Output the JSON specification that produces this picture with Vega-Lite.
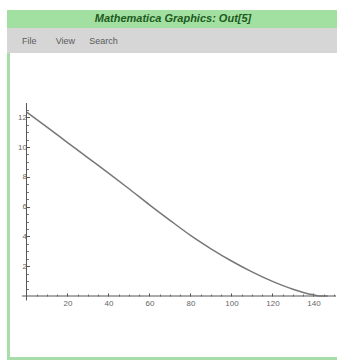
{
  "$schema": "https://vega.github.io/schema/vega-lite/v6.json",
  "padding": {"left": 5, "top": 10, "right": 0, "bottom": 0},
  "background": "white",
  "spacing": 0,
  "bounds": "flush",
  "config": {"font": "Liberation Sans", "concat": {"spacing": 0}},
  "vconcat": [
    {
      "width": 332,
      "height": 18,
      "view": {"fill": "#a2e0a2", "stroke": null},
      "data": {"values": [{"t": "Mathematica Graphics: Out[5]"}]},
      "mark": {"type": "text", "font": "Liberation Sans", "fontStyle": "italic", "fontWeight": "bold", "fontSize": 11, "color": "#1d5a1d"},
      "encoding": {"text": {"field": "t", "type": "nominal"}}
    },
    {
      "width": 332,
      "height": 25,
      "view": {"fill": "#d6d6d6", "stroke": null},
      "data": {"values": [{"m": "File", "i": 0}, {"m": "View", "i": 1}, {"m": "Search", "i": 2}]},
      "mark": {"type": "text", "align": "left", "fontSize": 9, "color": "#5a5a5a"},
      "encoding": {
        "x": {"field": "i", "type": "quantitative", "scale": {"domain": [-0.45, 9.45], "nice": false, "zero": false}, "axis": null},
        "text": {"field": "m", "type": "nominal"}
      }
    },
    {
      "width": 332,
      "height": 307,
      "view": {"fill": "white", "stroke": null},
      "resolve": {"axis": {"x": "independent", "y": "independent"}},
      "layer": [
        {
          "data": {"values": [{"edge": "left"}]},
          "mark": {"type": "rule", "color": "#a8dca8", "strokeWidth": 3},
          "encoding": {
            "x": {"datum": -8.78, "type": "quantitative", "scale": {"domain": [-9.51, 152.44], "nice": false, "zero": false}, "axis": null},
            "y": {"datum": -4.295, "type": "quantitative", "scale": {"domain": [-4.295, 16.309], "nice": false, "zero": false}, "axis": null},
            "y2": {"datum": 16.309}
          }
        },
        {
          "data": {"values": [{"edge": "bottom"}]},
          "mark": {"type": "rule", "color": "#a8dca8", "strokeWidth": 3},
          "encoding": {
            "x": {"datum": -9.51, "type": "quantitative", "scale": {"domain": [-9.51, 152.44], "nice": false, "zero": false}, "axis": null},
            "x2": {"datum": 152.44},
            "y": {"datum": -4.194, "type": "quantitative", "scale": {"domain": [-4.295, 16.309], "nice": false, "zero": false}, "axis": null}
          }
        },
        {
          "data": {"values": [{"edge": "right"}]},
          "mark": {"type": "rule", "color": "#c4e8c4", "strokeWidth": 2},
          "encoding": {
            "x": {"datum": 151.95, "type": "quantitative", "scale": {"domain": [-9.51, 152.44], "nice": false, "zero": false}, "axis": null},
            "y": {"datum": -4.295, "type": "quantitative", "scale": {"domain": [-4.295, 16.309], "nice": false, "zero": false}, "axis": null},
            "y2": {"datum": 16.309}
          }
        },
        {
          "data": {"values": [{"axis": "x"}]},
          "mark": {"type": "rule", "color": "#555555", "strokeWidth": 1},
          "encoding": {
            "x": {"datum": -2.2, "type": "quantitative", "scale": {"domain": [-9.51, 152.44], "nice": false, "zero": false},
              "axis": {"orient": "bottom", "offset": -64, "domain": false, "grid": false, "labels": false, "title": null,
                "values": [5, 10, 15, 25, 30, 35, 45, 50, 55, 65, 70, 75, 85, 90, 95, 105, 110, 115, 125, 130, 135, 145, 150],
                "tickSize": -2, "tickColor": "#777777"}},
            "x2": {"datum": 151},
            "y": {"datum": 0, "type": "quantitative", "scale": {"domain": [-4.295, 16.309], "nice": false, "zero": false}, "axis": null}
          }
        },
        {
          "data": {"values": [{"axis": "y"}]},
          "mark": {"type": "rule", "color": "#555555", "strokeWidth": 1},
          "encoding": {
            "x": {"datum": 0, "type": "quantitative", "scale": {"domain": [-9.51, 152.44], "nice": false, "zero": false}, "axis": null},
            "y": {"datum": -0.3, "type": "quantitative", "scale": {"domain": [-4.295, 16.309], "nice": false, "zero": false},
              "axis": {"orient": "left", "offset": -19.5, "domain": false, "grid": false, "labels": false, "title": null,
                "values": [0.5, 1, 1.5, 2.5, 3, 3.5, 4.5, 5, 5.5, 6.5, 7, 7.5, 8.5, 9, 9.5, 10.5, 11, 11.5, 12.5],
                "tickSize": -2, "tickColor": "#777777"}},
            "y2": {"datum": 12.95}
          }
        },
        {
          "data": {"values": [
            {"x": 0, "y": 12.35}, {"x": 10, "y": 11.33}, {"x": 20, "y": 10.3}, {"x": 30, "y": 9.27},
            {"x": 40, "y": 8.25}, {"x": 50, "y": 7.2}, {"x": 60, "y": 6.12}, {"x": 70, "y": 5.08},
            {"x": 80, "y": 4.07}, {"x": 90, "y": 3.17}, {"x": 100, "y": 2.35}, {"x": 110, "y": 1.62},
            {"x": 120, "y": 0.98}, {"x": 130, "y": 0.45}, {"x": 135, "y": 0.24}, {"x": 140, "y": 0.08},
            {"x": 144, "y": 0.0}, {"x": 147, "y": 0.0}
          ]},
          "mark": {"type": "line", "color": "#777777", "strokeWidth": 1.5, "interpolate": "monotone"},
          "encoding": {
            "x": {"field": "x", "type": "quantitative", "scale": {"domain": [-9.51, 152.44], "nice": false, "zero": false},
              "axis": {"orient": "bottom", "offset": -64, "domain": false, "grid": false, "title": null,
                "values": [20, 40, 60, 80, 100, 120, 140], "tickSize": -3, "tickColor": "#555555",
                "labelFontSize": 8, "labelColor": "#666666", "labelPadding": 6, "labelFont": "Liberation Sans"}},
            "y": {"field": "y", "type": "quantitative", "scale": {"domain": [-4.295, 16.309], "nice": false, "zero": false},
              "axis": {"orient": "left", "offset": -19.5, "domain": false, "grid": false, "title": null,
                "values": [2, 4, 6, 8, 10, 12], "tickSize": -3, "tickColor": "#555555",
                "labelFontSize": 8, "labelColor": "#666666", "labelPadding": 3, "labelFont": "Liberation Sans"}}
          }
        }
      ]
    }
  ]
}
